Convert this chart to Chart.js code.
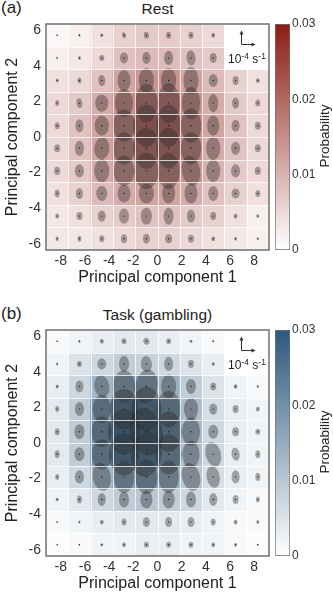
<!DOCTYPE html>
<html lang="en">
<head>
<meta charset="UTF-8">
<title>Rest vs Task flow</title>
<script src="https://cdn.jsdelivr.net/npm/chart.js"></script>
<style>
  body { margin: 0; width: 333px; height: 600px; position: relative; overflow: hidden; background: #fff;
         font-family: "Liberation Sans", Arial, sans-serif; color: #222; }
  .panel { position: absolute; left: 0; width: 333px; height: 300px; }
  .panel canvas { position: absolute; top: 0; }
  .lbl { position: absolute; left: 1px; top: -2px; font-size: 17px; }
  .ttl { position: absolute; left: 46px; width: 223px; top: 0; text-align: center; font-size: 15.5px; }
  .unit { position: absolute; left: 224px; width: 46px; top: 52px; text-align: center; font-size: 12px; white-space: nowrap; color: #222; }
  .unit sup { font-size: 8.5px; vertical-align: 4px; line-height: 0; }
  .cbt { position: absolute; left: 275px; top: 128px; width: 100px; text-align: center; font-size: 13.5px; line-height: 16px;
         transform: rotate(-90deg); transform-origin: 50px 8px; }
</style>
</head>
<body>
  <div class="panel" style="top:0">
    <div class="lbl">(a)</div>
    <div class="ttl">Rest</div>
    <canvas id="restMain" width="275" height="295" style="left:0"></canvas>
    <canvas id="restBar" width="63" height="295" style="left:270px"></canvas>
    <div class="unit">10<sup>-4</sup> s<sup>-1</sup></div>
    <div class="cbt">Probability</div>
  </div>
  <div class="panel" style="top:306px">
    <div class="lbl">(b)</div>
    <div class="ttl">Task (gambling)</div>
    <canvas id="taskMain" width="275" height="295" style="left:0"></canvas>
    <canvas id="taskBar" width="63" height="295" style="left:270px"></canvas>
    <div class="unit">10<sup>-4</sup> s<sup>-1</sup></div>
    <div class="cbt">Probability</div>
  </div>

<script>
// bins (principal component space)
const xCenters = [-8.30, -6.46, -4.61, -2.77, -0.92, 0.92, 2.77, 4.61, 6.46, 8.30];
const yCenters = [5.715, 4.445, 3.175, 1.905, 0.635, -0.635, -1.905, -3.175, -4.445, -5.715];
const xEdges = [-9.225, -7.38, -5.535, -3.69, -1.845, 0, 1.845, 3.69, 5.535, 7.38, 9.225];
const yEdges = [-6.35, -5.08, -3.81, -2.54, -1.27, 0, 1.27, 2.54, 3.81, 5.08, 6.35];
const binW = 1.845, binH = 1.27;
const xTicks = [-8, -6, -4, -2, 0, 2, 4, 6, 8];
const yTicks = [-6, -4, -2, 0, 2, 4, 6];
const probTicks = [0, 0.01, 0.02, 0.03];
const probMax = 0.03;

// probability per bin, rows top (PC2 high) to bottom
const restProb = [
  [0.001, 0.002, 0.004, 0.006, 0.007, 0.007, 0.006, 0.005, 0, 0],
  [0.002, 0.003, 0.005, 0.008, 0.009, 0.009, 0.008, 0.007, 0, 0],
  [0.004, 0.005, 0.008, 0.012, 0.014, 0.014, 0.012, 0.009, 0.006, 0.004],
  [0.005, 0.007, 0.011, 0.015, 0.018, 0.018, 0.015, 0.011, 0.007, 0.005],
  [0.005, 0.008, 0.012, 0.016, 0.020, 0.020, 0.016, 0.012, 0.008, 0.005],
  [0.005, 0.008, 0.012, 0.016, 0.019, 0.019, 0.016, 0.011, 0.008, 0.005],
  [0.005, 0.007, 0.011, 0.014, 0.016, 0.016, 0.014, 0.010, 0.007, 0.005],
  [0.004, 0.006, 0.009, 0.011, 0.012, 0.012, 0.011, 0.008, 0.006, 0.004],
  [0.003, 0.004, 0.006, 0.007, 0.008, 0.008, 0.007, 0.006, 0.004, 0.002],
  [0.003, 0.003, 0.004, 0.005, 0.006, 0.006, 0.005, 0.004, 0.003, 0.002]
];
const taskProb = [
  [0.001, 0.002, 0.003, 0.004, 0.004, 0.003, 0.002, 0.001, 0, 0],
  [0.002, 0.005, 0.007, 0.009, 0.008, 0.007, 0.005, 0.003, 0, 0],
  [0.003, 0.007, 0.013, 0.017, 0.017, 0.014, 0.009, 0.005, 0.002, 0.001],
  [0.004, 0.009, 0.019, 0.025, 0.025, 0.020, 0.012, 0.006, 0.003, 0.002],
  [0.004, 0.009, 0.020, 0.027, 0.027, 0.022, 0.013, 0.007, 0.003, 0.002],
  [0.004, 0.009, 0.019, 0.025, 0.025, 0.020, 0.012, 0.007, 0.003, 0.002],
  [0.003, 0.007, 0.013, 0.017, 0.018, 0.015, 0.010, 0.006, 0.003, 0.002],
  [0.002, 0.004, 0.007, 0.009, 0.010, 0.009, 0.007, 0.004, 0.002, 0.001],
  [0.001, 0.002, 0.003, 0.004, 0.004, 0.004, 0.003, 0.002, 0.001, 0.001],
  [0.0005, 0.001, 0.002, 0.002, 0.003, 0.003, 0.002, 0.002, 0.001, 0.0005]
];

// flow ellipse axes (full width / height, 1e-4 s^-1) and tilt (deg)
const restW = [
  [0.13, 0.17, 0.25, 0.33, 0.42, 0.42, 0.42, 0.33, 0, 0],
  [0.13, 0.25, 0.42, 0.67, 0.67, 0.75, 0.75, 0.58, 0, 0],
  [0.25, 0.33, 0.58, 1.08, 1.25, 1.25, 1.25, 0.75, 0.5, 0.33],
  [0.33, 0.5, 1.08, 1.5, 1.83, 1.83, 1.5, 0.83, 0.58, 0.42],
  [0.42, 0.67, 1.17, 1.83, 2.17, 2.0, 1.67, 1.0, 0.67, 0.5],
  [0.5, 0.75, 1.25, 1.75, 2.17, 2.0, 1.67, 1.17, 0.75, 0.5],
  [0.5, 0.75, 1.25, 1.67, 2.0, 1.83, 1.5, 1.17, 0.75, 0.5],
  [0.42, 0.58, 0.92, 1.08, 1.25, 1.08, 1.08, 0.83, 0.67, 0.42],
  [0.33, 0.5, 0.67, 0.83, 0.92, 0.83, 0.67, 0.5, 0.33, 0.25],
  [0.25, 0.33, 0.42, 0.5, 0.58, 0.58, 0.5, 0.33, 0.25, 0.17]
];
const restH = [
  [0.13, 0.25, 0.33, 0.5, 0.58, 0.58, 0.58, 0.42, 0, 0],
  [0.17, 0.33, 0.5, 0.92, 1.0, 1.17, 1.25, 0.83, 0, 0],
  [0.33, 0.5, 0.92, 1.75, 2.08, 2.08, 2.25, 1.08, 0.75, 0.42],
  [0.5, 0.83, 1.42, 2.33, 3.2, 3.3, 2.67, 1.5, 0.92, 0.58],
  [0.58, 1.08, 1.67, 2.67, 3.5, 3.5, 2.83, 1.67, 1.0, 0.67],
  [0.67, 1.25, 1.83, 2.67, 3.4, 3.4, 2.67, 1.92, 1.08, 0.67],
  [0.67, 1.08, 1.92, 2.5, 3.0, 3.0, 2.5, 1.83, 1.08, 0.67],
  [0.67, 0.92, 1.25, 1.5, 1.67, 1.67, 1.67, 1.25, 0.83, 0.58],
  [0.42, 0.67, 0.92, 1.25, 1.42, 1.42, 1.08, 0.67, 0.42, 0.33],
  [0.42, 0.5, 0.58, 0.75, 0.83, 0.75, 0.67, 0.42, 0.33, 0.25]
];
const restAng = [
  [0, 0, 0, 10, 10, 0, 0, 0, 0, 0],
  [0, 0, 0, 0, 0, 0, 5, 0, 0, 0],
  [0, 0, 5, 0, 0, 0, 0, 0, 0, 0],
  [0, 10, 0, 0, 0, 0, 0, 0, 0, 0],
  [0, 0, 0, 0, 0, 0, 0, 0, 0, 0],
  [0, 0, -5, 0, 0, 0, 0, 0, 0, 0],
  [0, 0, 0, 0, 0, 0, 10, 0, 0, 0],
  [0, 0, 0, 0, 0, 0, 0, 0, 0, 0],
  [0, 0, 0, 0, 0, 0, 0, 0, 0, 0],
  [0, 0, 0, 0, 0, 0, 0, 0, 0, 0]
];
const taskW = [
  [0.13, 0.17, 0.33, 0.42, 0.5, 0.42, 0.25, 0.17, 0, 0],
  [0.17, 0.42, 0.75, 0.83, 0.92, 0.75, 0.5, 0.25, 0, 0],
  [0.25, 0.67, 1.25, 1.83, 1.83, 1.25, 0.83, 0.5, 0.33, 0.17],
  [0.33, 0.75, 1.5, 2.33, 2.5, 2.0, 1.17, 0.67, 0.5, 0.33],
  [0.42, 0.83, 1.67, 2.67, 2.67, 2.17, 1.5, 0.83, 0.58, 0.42],
  [0.42, 0.83, 1.67, 2.5, 2.5, 2.17, 1.42, 1.25, 0.67, 0.42],
  [0.33, 0.75, 1.5, 1.67, 1.83, 1.67, 1.5, 1.08, 0.67, 0.42],
  [0.25, 0.42, 0.67, 0.83, 1.0, 1.0, 0.83, 0.67, 0.5, 0.33],
  [0.13, 0.17, 0.33, 0.42, 0.58, 0.58, 0.58, 0.42, 0.33, 0.25],
  [0.08, 0.13, 0.25, 0.33, 0.42, 0.42, 0.42, 0.33, 0.25, 0.17]
];
const taskH = [
  [0.13, 0.25, 0.42, 0.5, 0.58, 0.5, 0.25, 0.17, 0, 0],
  [0.25, 0.5, 0.92, 1.33, 1.33, 1.17, 0.67, 0.33, 0, 0],
  [0.33, 1.0, 1.83, 2.67, 2.83, 2.0, 1.25, 0.67, 0.42, 0.25],
  [0.5, 1.17, 2.33, 3.33, 3.75, 3.0, 1.83, 0.92, 0.67, 0.42],
  [0.58, 1.25, 2.5, 3.75, 4.0, 3.33, 2.33, 1.17, 0.75, 0.5],
  [0.67, 1.17, 2.5, 3.5, 3.75, 3.33, 2.25, 2.08, 1.08, 0.67],
  [0.5, 1.08, 2.33, 2.67, 2.83, 2.67, 2.33, 1.83, 1.08, 0.67],
  [0.33, 0.67, 1.08, 1.33, 1.5, 1.5, 1.33, 1.08, 0.75, 0.5],
  [0.17, 0.25, 0.42, 0.58, 0.83, 0.83, 0.83, 0.58, 0.42, 0.33],
  [0.08, 0.17, 0.25, 0.42, 0.5, 0.5, 0.5, 0.42, 0.33, 0.17]
];
const taskAng = [
  [0, 0, 20, 10, 20, 0, 0, 0, 0, 0],
  [0, 0, 0, 0, 5, 0, 0, 0, 0, 0],
  [0, 0, 10, 0, -10, 0, 0, 0, 0, 0],
  [0, 0, 0, 0, 0, 0, 0, 0, 0, 0],
  [0, 0, 0, 0, 15, 0, 0, 0, 0, 0],
  [0, 0, 0, 0, -10, 0, 0, 15, 10, 0],
  [0, 0, 10, 0, 0, 0, 15, 10, 0, 0],
  [0, 0, 0, 0, 0, 0, 0, 0, 0, 0],
  [0, 0, 0, 0, 0, 0, 0, 0, 0, 0],
  [0, 0, 0, 0, 0, 0, 0, 0, 0, 0]
];

const restTop = [139, 28, 18];
const taskTop = [44, 88, 124];

function shade(p, top) {
  const t = Math.max(0, Math.min(1, p / probMax));
  const c = top.map(v => Math.round(255 - t * (255 - v)));
  return 'rgb(' + c.join(',') + ')';
}

const flowOverlay = {
  id: 'flowOverlay',
  afterDatasetsDraw(chart, args, opts) {
    const ctx = chart.ctx, ca = chart.chartArea;
    const xs = chart.scales.x2, ys = chart.scales.y;
    const unit = xs.getPixelForValue(1) - xs.getPixelForValue(0);
    ctx.save();
    ctx.beginPath();
    ctx.rect(ca.left, ca.top, ca.width, ca.height);
    ctx.clip();
    // covariance ellipses
    ctx.fillStyle = 'rgba(40,40,40,0.38)';
    opts.w.forEach((row, r) => row.forEach((w, c) => {
      const h = opts.h[r][c];
      if (!w || !h) return;
      ctx.beginPath();
      ctx.ellipse(xs.getPixelForValue(xCenters[c]), ys.getPixelForValue(yCenters[r]),
        w * unit / 2, h * unit / 2, -opts.ang[r][c] * Math.PI / 180, 0, Math.PI * 2);
      ctx.fill();
    }));
    ctx.fillStyle = 'rgba(15,15,15,0.85)';
    opts.w.forEach((row, r) => row.forEach((w, c) => {
      if (!w) return;
      ctx.beginPath();
      ctx.arc(xs.getPixelForValue(xCenters[c]), ys.getPixelForValue(yCenters[r]), 0.7, 0, Math.PI * 2);
      ctx.fill();
    }));
    // bin borders
    ctx.strokeStyle = 'rgba(255,255,255,0.75)';
    ctx.lineWidth = 1;
    xEdges.forEach(v => {
      const p = Math.round(xs.getPixelForValue(v)) + 0.5;
      ctx.beginPath(); ctx.moveTo(p, ca.top); ctx.lineTo(p, ca.bottom); ctx.stroke();
    });
    yEdges.forEach(v => {
      const p = Math.round(ys.getPixelForValue(v)) + 0.5;
      ctx.beginPath(); ctx.moveTo(ca.left, p); ctx.lineTo(ca.right, p); ctx.stroke();
    });
    // scale-bar inset
    const ix = xs.getPixelForValue(xEdges[8]), iy = ys.getPixelForValue(yEdges[8]);
    ctx.fillStyle = '#fff';
    ctx.fillRect(ix, ca.top, ca.right - ix, iy - ca.top);
    const ox = Math.round(xs.getPixelForValue(6.9)) + 0.5, oy = Math.round(ys.getPixelForValue(5.2)) + 0.5;
    ctx.strokeStyle = '#333';
    ctx.fillStyle = '#333';
    ctx.lineWidth = 1;
    ctx.beginPath();
    ctx.moveTo(ox, oy - unit); ctx.lineTo(ox, oy); ctx.lineTo(ox + unit, oy);
    ctx.stroke();
    ctx.beginPath();
    ctx.moveTo(ox, oy - unit - 2); ctx.lineTo(ox - 2, oy - unit + 2); ctx.lineTo(ox + 2, oy - unit + 2);
    ctx.closePath(); ctx.fill();
    ctx.beginPath();
    ctx.moveTo(ox + unit + 2, oy); ctx.lineTo(ox + unit - 2, oy - 2); ctx.lineTo(ox + unit - 2, oy + 2);
    ctx.closePath(); ctx.fill();
    ctx.restore();
    // frame
    ctx.save();
    ctx.strokeStyle = '#6f6f6f';
    ctx.lineWidth = 1.5;
    ctx.strokeRect(ca.left, ca.top, ca.width, ca.height);
    ctx.restore();
  }
};

const tickFont = { family: '"Liberation Sans", Arial, sans-serif', size: 14 };
const titleFont = { family: '"Liberation Sans", Arial, sans-serif', size: 16 };

function mainChart(id, prob, w, h, ang, top) {
  const datasets = yCenters.map((yc, r) => ({
    data: xCenters.map(() => [yc - binH / 2, yc + binH / 2]),
    backgroundColor: prob[r].map(p => shade(p, top)),
    borderWidth: 0,
    grouped: false,
    barPercentage: 1,
    categoryPercentage: 1
  }));
  return new Chart(document.getElementById(id), {
    type: 'bar',
    data: { labels: xCenters, datasets: datasets },
    options: {
      responsive: false,
      animation: false,
      events: [],
      layout: { padding: { top: 24, right: 6, left: 0, bottom: 0 } },
      plugins: {
        legend: { display: false },
        tooltip: { enabled: false },
        flowOverlay: { w: w, h: h, ang: ang }
      },
      scales: {
        x: { display: false, offset: true },
        x2: {
          type: 'linear', position: 'bottom', min: xEdges[0], max: xEdges[10], offset: false,
          grid: { display: false, drawTicks: false }, border: { display: false },
          afterBuildTicks: s => { s.ticks = xTicks.map(v => ({ value: v })); },
          afterFit: s => { s.height = 45; },
          ticks: { font: tickFont, color: '#333', padding: 3, maxRotation: 0, autoSkip: false },
          title: { display: true, text: 'Principal component 1', font: titleFont, color: '#222', padding: { top: 0, bottom: 8 } }
        },
        y: {
          min: yEdges[0], max: yEdges[10],
          grid: { display: false, drawTicks: false }, border: { display: false },
          afterBuildTicks: s => { s.ticks = yTicks.map(v => ({ value: v })); },
          afterFit: s => { s.width = 46; },
          ticks: { font: tickFont, color: '#333', padding: 5 },
          title: { display: true, text: 'Principal component 2', font: titleFont, color: '#222', padding: { top: 3, bottom: 0 } }
        }
      }
    },
    plugins: [flowOverlay]
  });
}

function colorBar(id, top) {
  const topCol = 'rgb(' + top.join(',') + ')';
  return new Chart(document.getElementById(id), {
    type: 'bar',
    data: {
      labels: ['p'],
      datasets: [{
        data: [[probTicks[0], probMax]],
        backgroundColor: c => {
          const ca = c.chart.chartArea;
          if (!ca) return topCol;
          const g = c.chart.ctx.createLinearGradient(0, ca.bottom, 0, ca.top);
          g.addColorStop(0, '#fff');
          g.addColorStop(1, topCol);
          return g;
        },
        borderColor: '#707070',
        borderWidth: 1,
        borderSkipped: false,
        barPercentage: 1,
        categoryPercentage: 1
      }]
    },
    options: {
      responsive: false,
      animation: false,
      events: [],
      layout: { padding: { top: 24, bottom: 45, left: 5, right: 0 } },
      plugins: { legend: { display: false }, tooltip: { enabled: false } },
      scales: {
        x: { display: false },
        y: {
          position: 'right', min: 0, max: probMax,
          grid: { display: false, drawTicks: false }, border: { display: false },
          afterBuildTicks: s => { s.ticks = probTicks.map(v => ({ value: v })); },
          afterFit: s => { s.width = 43; },
          ticks: { font: { family: '"Liberation Sans", Arial, sans-serif', size: 12 }, color: '#333', padding: 2,
                   callback: v => v === 0 ? '0' : v.toFixed(2) }
        }
      }
    }
  });
}

mainChart('restMain', restProb, restW, restH, restAng, restTop);
colorBar('restBar', restTop);
mainChart('taskMain', taskProb, taskW, taskH, taskAng, taskTop);
colorBar('taskBar', taskTop);
</script>
</body>
</html>
